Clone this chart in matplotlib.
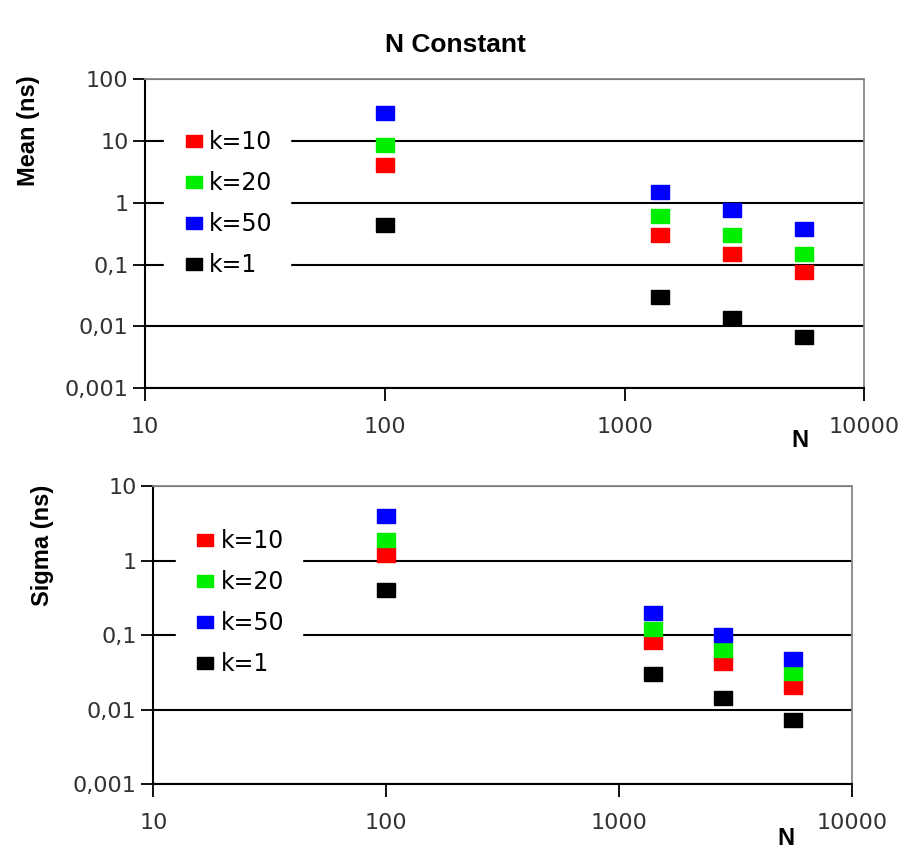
import numpy as np
import matplotlib
matplotlib.use("Agg")
import matplotlib.pyplot as plt
from matplotlib.ticker import FixedLocator, FixedFormatter, NullLocator

# data
N = [100, 1400, 2800, 5600]
labels = ["k=10", "k=20", "k=50", "k=1"]
colors = ["#ff0000", "#00ee00", "#0000ff", "#000000"]

mean_k10 = [4.0, 0.30, 0.149, 0.077]
mean_k20 = [8.7, 0.61, 0.30, 0.149]
mean_k50 = [27.8, 1.49, 0.76, 0.37]
mean_k1 = [0.43, 0.030, 0.0135, 0.0068]

sigma_k10 = [1.19, 0.081, 0.042, 0.0204]
sigma_k20 = [1.88, 0.12, 0.063, 0.031]
sigma_k50 = [3.96, 0.20, 0.10, 0.048]
sigma_k1 = [0.41, 0.030, 0.0146, 0.0072]

xticks = [10, 100, 1000, 10000]
xticklabels = ["10", "100", "1000", "10000"]
mean_yticks = [0.001, 0.01, 0.1, 1, 10, 100]
mean_yticklabels = ["0,001", "0,01", "0,1", "1", "10", "100"]
sigma_yticks = [0.001, 0.01, 0.1, 1, 10]
sigma_yticklabels = ["0,001", "0,01", "0,1", "1", "10"]

# slightly wide square marker, like the original
rect = [(-1, -0.78), (1, -0.78), (1, 0.78), (-1, 0.78), (-1, -0.78)]

fig = plt.figure(figsize=(9.07, 8.59), dpi=100)
ax1 = fig.add_axes([0.160, 0.548, 0.793, 0.360])
ax2 = fig.add_axes([0.169, 0.087, 0.770, 0.347])


def setup(ax, series, yticks, yticklabels, ylim, legend_anchor):
	ax.set_xscale("log")
	ax.set_yscale("log")
	ax.set_xlim(10, 10000)
	ax.set_ylim(*ylim)
	for ys, lab, c in zip(series, labels, colors):
		ax.plot(N, ys, linestyle="none", marker=rect, markersize=13,
				markerfacecolor=c, markeredgecolor=c, label=lab, zorder=3)
	ax.yaxis.set_major_locator(FixedLocator(yticks))
	ax.yaxis.set_major_formatter(FixedFormatter(yticklabels))
	ax.yaxis.set_minor_locator(NullLocator())
	ax.xaxis.set_major_locator(FixedLocator(xticks))
	ax.xaxis.set_major_formatter(FixedFormatter(xticklabels))
	ax.xaxis.set_minor_locator(NullLocator())
	for lab in ax.get_xticklabels() + ax.get_yticklabels():
		lab.set_fontfamily("DejaVu Sans")
		lab.set_fontsize(16)
	ax.tick_params(axis="both", direction="out", length=9, width=1.3, colors="black",
				   labelcolor="#333333")
	ax.tick_params(axis="x", pad=12)
	ax.tick_params(axis="y", pad=3)
	ax.grid(True, axis="y", color="black", linewidth=1.5, zorder=1)
	ax.set_axisbelow(True)
	for side in ["left", "bottom"]:
		ax.spines[side].set_color("black")
		ax.spines[side].set_linewidth(1.5)
	for side in ["top", "right"]:
		ax.spines[side].set_color("#888888")
		ax.spines[side].set_linewidth(1.3)
	leg = ax.legend(loc="upper left", bbox_to_anchor=legend_anchor, frameon=True,
					fancybox=False, edgecolor="white", facecolor="white", framealpha=1,
					prop={"family": "DejaVu Sans", "size": 17}, handletextpad=0.15,
					handlelength=1.0, labelspacing=0.72, borderpad=0.75,
					markerscale=0.85)
	leg.set_zorder(2)
	return ax


setup(ax1, [mean_k10, mean_k20, mean_k50, mean_k1], mean_yticks, mean_yticklabels,
	  (0.001, 100), (0.01, 0.93))
setup(ax2, [sigma_k10, sigma_k20, sigma_k50, sigma_k1], sigma_yticks, sigma_yticklabels,
	  (0.001, 10), (0.015, 0.955))

fig.text(0.502, 0.948, "N Constant", ha="center", va="center",
		 fontfamily="Liberation Sans", fontweight="bold", fontsize=19)
fig.text(0.031, 0.848, "Mean (ns)", rotation=90, ha="center", va="center",
		 fontfamily="Liberation Sans", fontweight="bold", fontsize=17)
fig.text(0.047, 0.365, "Sigma (ns)", rotation=90, ha="center", va="center",
		 fontfamily="Liberation Sans", fontweight="bold", fontsize=17)
fig.text(0.882, 0.487, "N", ha="center", va="center",
		 fontfamily="Liberation Sans", fontweight="bold", fontsize=17)
fig.text(0.866, 0.024, "N", ha="center", va="center",
		 fontfamily="Liberation Sans", fontweight="bold", fontsize=17)

fig.savefig("out.png", dpi=100, facecolor="white")
